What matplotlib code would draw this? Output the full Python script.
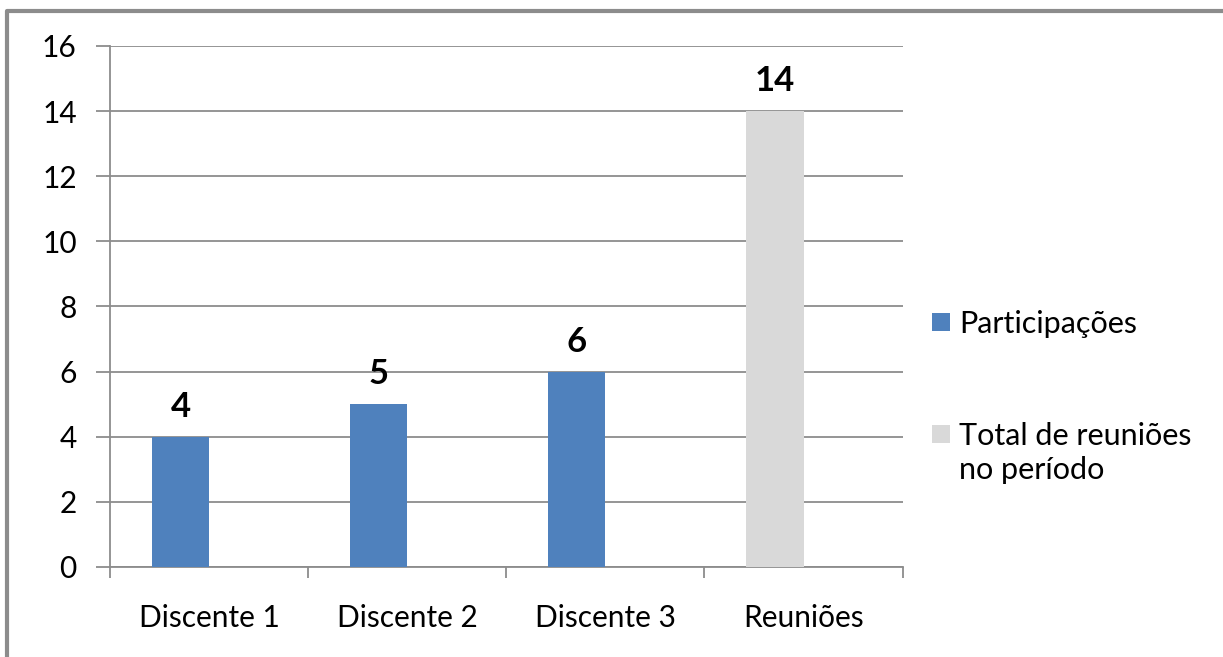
import matplotlib.pyplot as plt
from matplotlib.patches import Rectangle
from matplotlib.lines import Line2D

plt.rcParams['font.family'] = ['Lato', 'DejaVu Sans']

categorias = ['Discente 1', 'Discente 2', 'Discente 3', 'Reuniões']
participacoes = [4, 5, 6]
total_reunioes = [14]
series = ['Participações', 'Total de reuniões\nno período']
yticks = [0, 2, 4, 6, 8, 10, 12, 14, 16]

AZUL = '#4F81BD'
CINZA = '#D9D9D9'
LINHA = '#8C8C8C'
W, H = 1223, 657

fig = plt.figure(figsize=(W / 100, H / 100), dpi=100)
ax = fig.add_axes([0.090, 0.137, 0.648, 0.793])

largura = 0.288
desloc = -largura / 2
x_part = [i + desloc for i in range(len(participacoes))]
x_total = [len(participacoes) + desloc]

b1 = ax.bar(x_part, participacoes, width=largura, color=AZUL, zorder=3)
b2 = ax.bar(x_total, total_reunioes, width=largura, color=CINZA, zorder=3)
for cont in (b1, b2):
    ax.bar_label(cont, padding=10, fontsize=25, fontweight='bold')

ax.set_xlim(-0.5, len(categorias) - 0.5)
ax.set_ylim(0, 16)
ax.set_yticks(yticks)
ax.yaxis.grid(True, color=LINHA, linewidth=1.3, zorder=0)

# categorias nos centros, marcas de divisa entre elas
ax.set_xticks(range(len(categorias)))
ax.set_xticklabels(categorias)
ax.set_xticks([i - 0.5 for i in range(len(categorias) + 1)], minor=True)
ax.tick_params(axis='x', which='major', length=0, pad=27, labelsize=21.5)
ax.tick_params(axis='x', which='minor', length=8, width=1.3, color=LINHA)
ax.tick_params(axis='y', length=10, width=1.3, color=LINHA, labelsize=21.5, pad=14)

for lado in ('top', 'right'):
    ax.spines[lado].set_visible(False)
for lado in ('left', 'bottom'):
    ax.spines[lado].set_color(LINHA)
    ax.spines[lado].set_linewidth(1.3)

# legenda à direita (a baseline fica na última linha do rótulo)
leg_y = [322, 434]
for cor, rotulo, y in zip([AZUL, CINZA], series, leg_y):
    yf = 1 - y / H
    n_linhas = rotulo.count('\n')
    fig.patches.append(Rectangle((932 / W, yf - 9 / H), 18 / W, 18 / H,
                                 transform=fig.transFigure, facecolor=cor,
                                 edgecolor='none'))
    fig.text(959 / W, yf - (11 + 34 * n_linhas) / H, rotulo, fontsize=22,
             va='baseline', ha='left', linespacing=1.27)

# moldura do gráfico
fig.lines.append(Line2D([7 / W, 7 / W, 1], [0, 1 - 11 / H, 1 - 11 / H],
                        transform=fig.transFigure, color=LINHA, linewidth=3))

fig.savefig('out.png', dpi=100)
